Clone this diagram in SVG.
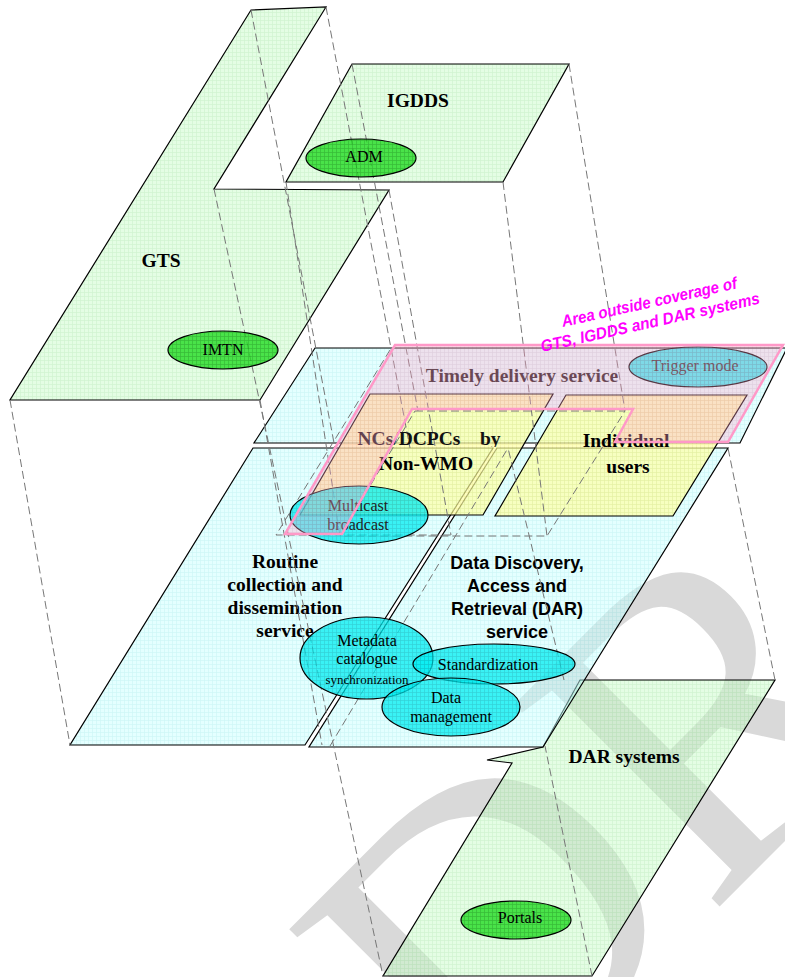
<svg xmlns="http://www.w3.org/2000/svg" width="785" height="977" viewBox="0 0 785 977">
<defs>
  <pattern id="pg" width="4" height="4" patternUnits="userSpaceOnUse"><rect width="4" height="4" fill="#c9fbc9"/><path d="M0 .5H4M.5 0V4" stroke="#a2e8a2" stroke-width=".7"/></pattern>
  <pattern id="pc" width="4" height="4" patternUnits="userSpaceOnUse"><rect width="4" height="4" fill="#c9ffff"/><path d="M0 .5H4M.5 0V4" stroke="#9eeeee" stroke-width=".7"/></pattern>
  <pattern id="py" width="4" height="4" patternUnits="userSpaceOnUse"><rect width="4" height="4" fill="#ffffa5"/><path d="M0 .5H4M.5 0V4" stroke="#eeee80" stroke-width=".7"/></pattern>
  <pattern id="pp" width="4" height="4" patternUnits="userSpaceOnUse"><rect width="4" height="4" fill="#ffaacc"/><path d="M0 .5H4M.5 0V4" stroke="#ff88b0" stroke-width=".7"/></pattern>
  <pattern id="ec" width="4" height="4" patternUnits="userSpaceOnUse"><rect width="4" height="4" fill="#00eef2"/><path d="M0 .5H4M.5 0V4" stroke="#00c4cc" stroke-width=".7"/></pattern>
  <pattern id="eg" width="4" height="4" patternUnits="userSpaceOnUse"><rect width="4" height="4" fill="#22dd22"/><path d="M0 .5H4M.5 0V4" stroke="#11aa11" stroke-width=".7"/></pattern>
  <clipPath id="clipBy"><rect x="470" y="420" width="40" height="27"/></clipPath>
</defs>
<style>
  .pl{stroke:#000;stroke-width:1.2;stroke-linejoin:miter}
  .gr{fill:url(#pg);fill-opacity:.5}
  .cy{fill:url(#pc);fill-opacity:.5}
  .ye{fill:url(#py);fill-opacity:.7}
  .el{stroke:#000;stroke-width:1.2}
  .ec{fill:url(#ec);fill-opacity:.75}
  .eg{fill:url(#eg);fill-opacity:.8}
  .tb{font-family:"Liberation Serif",serif;font-weight:bold;font-size:19.5px;fill:#000;text-anchor:middle}
  .ts{font-family:"Liberation Sans",sans-serif;font-weight:bold;font-size:18px;fill:#000;text-anchor:middle}
  .te{font-family:"Liberation Serif",serif;font-size:16px;fill:#000;text-anchor:middle}
  .dash{fill:none;stroke:#777;stroke-width:1;stroke-dasharray:8 4}
  .pink{font-family:"Liberation Sans",sans-serif;font-weight:bold;font-style:italic;font-size:16.5px;fill:#ff00ff}
</style>
<rect width="785" height="977" fill="#fff"/>
<text id="watermark" transform="translate(484,1142) rotate(-45)" font-family="Liberation Serif, serif" font-size="440" fill="#d9d9d9">DRAFT</text>

<g id="gts">
  <polygon class="pl gr" points="251,10 326,7 214,189 389,190 260,400 10,400"/>
  <text class="tb" x="161" y="267">GTS</text>
</g>
<g id="igdds">
  <polygon class="pl gr" points="352,64 569,64 503,182 286,182"/>
  <text class="tb" x="418" y="107">IGDDS</text>
</g>
<g id="dar-systems">
  <polygon class="pl gr" points="580,680 775,680 592,976 383,976 512,763 487,760 543,747"/>
  <text class="tb" x="624" y="763">DAR systems</text>
</g>
<g id="timely">
  <polygon class="pl cy" points="315,348 787,348 740,443 254,443"/>
  <text class="tb" x="522" y="382" style="fill:#1a1a1a">Timely delivery service</text>
</g>
<g id="routine">
  <polygon class="pl cy" points="253,448 493,448 305,745 70,745"/>
  <text class="tb" x="285" y="568">Routine</text>
  <text class="tb" x="285" y="591">collection and</text>
  <text class="tb" x="285" y="614">dissemination</text>
  <text class="tb" x="285" y="637">service</text>
</g>
<g id="dar-service">
  <polygon class="pl cy" points="497,448 728,448 543,747 309,747"/>
  <text class="ts" x="517" y="569">Data Discovery,</text>
  <text class="ts" x="517" y="592">Access and</text>
  <text class="ts" x="517" y="615">Retrieval (DAR)</text>
  <text class="ts" x="517" y="638">service</text>
</g>
<g id="ncs">
  <polygon class="pl ye" points="370,394 553,394 483,515 300,515"/>
</g>
<g id="individual">
  <polygon class="pl ye" points="566,395 747,395 673,516 495,516"/>
</g>

<g id="connectors">
  <path class="dash" d="M10,400 L70,745"/>
  <path class="dash" d="M251,10 L335,448"/>
  <path class="dash" d="M326,7 L410,448"/>
  <path class="dash" d="M214,189 L383,976"/>
  <path class="dash" d="M389,190 L451,535"/>
  <path class="dash" d="M260,400 L322,745"/>
  <path class="dash" d="M390,350 L276,535 L451,535"/>
  <path class="dash" d="M352,64 L418,411"/>
  <path class="dash" d="M569,64 L625,411"/>
  <path class="dash" d="M503,182 L547,536"/>
  <path class="dash" d="M286,182 L340,536"/>
  <path class="dash" d="M415,411 L625,411 L547,536 L340,536 Z"/>
  <path class="dash" d="M775,680 L728,448"/>
  <path class="dash" d="M592,976 L545,746"/>
  <path class="dash" d="M564,680 L508,448"/>
  <path class="dash" d="M330,746 L508,448"/>
</g>

<g id="imtn">
  <ellipse class="el eg" cx="223" cy="350" rx="55" ry="19"/>
  <text class="te" x="223" y="355">IMTN</text>
</g>
<g id="adm">
  <ellipse class="el eg" cx="361" cy="158" rx="55" ry="19"/>
  <text class="te" x="364" y="162">ADM</text>
</g>
<g id="portals">
  <ellipse class="el eg" cx="516" cy="920" rx="55" ry="19"/>
  <text class="te" x="520" y="923">Portals</text>
</g>
<g id="metadata">
  <ellipse class="el ec" cx="366.5" cy="658" rx="66.5" ry="41"/>
</g>
<g id="standardization">
  <ellipse class="el ec" cx="494" cy="664" rx="81" ry="20"/>
</g>
<g id="data-management">
  <ellipse class="el ec" cx="451" cy="707" rx="69" ry="29"/>
</g>
<g id="multicast">
  <ellipse class="el ec" cx="359" cy="515" rx="69" ry="29"/>
</g>
<g id="trigger">
  <ellipse class="el ec" cx="698" cy="367" rx="69" ry="20"/>
</g>
<g id="ellipse-labels">
  <text class="te" x="367" y="646">Metadata</text>
  <text class="te" x="367" y="664">catalogue</text>
  <text class="te" x="367" y="684" style="font-size:13px">synchronization</text>
  <text class="te" x="488" y="670">Standardization</text>
  <text class="te" x="446" y="703">Data</text>
  <text class="te" x="451" y="722">management</text>
  <text class="te" x="358" y="511" style="fill:#222">Multicast</text>
  <text class="te" x="358" y="530" style="fill:#222">broadcast</text>
  <text class="te" x="695" y="371" style="fill:#333">Trigger mode</text>
</g>
<g id="ncs-labels">
  <text class="tb" x="409" y="445" style="fill:#111">NCs/DCPCs</text>
  <text class="tb" x="480" y="445" clip-path="url(#clipBy)" style="text-anchor:start;fill:#111">by</text>
  <text class="tb" x="426" y="470">Non-WMO</text>
  <text class="tb" x="626" y="447">Individual</text>
  <text class="tb" x="628" y="473">users</text>
</g>

<g id="outside-area">
  <polygon points="395,345 783,345 728,442 615,442 633,409 412,409 342,534 285,534" fill="url(#pp)" fill-opacity=".35" stroke="#ff99c8" stroke-width="2.5"/>
  <text class="pink" transform="translate(563,327) rotate(-12.5)" textLength="179" lengthAdjust="spacingAndGlyphs">Area outside coverage of</text>
  <text class="pink" transform="translate(542,352) rotate(-12.5)" textLength="224" lengthAdjust="spacingAndGlyphs">GTS, IGDDS and DAR systems</text>
</g>
</svg>
